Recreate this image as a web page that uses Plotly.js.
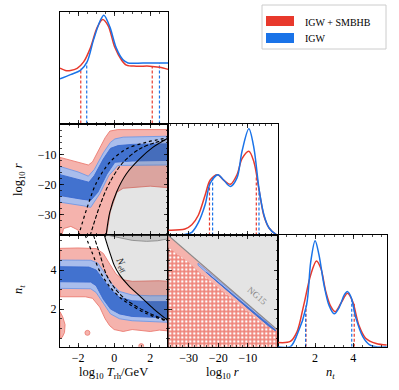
<!DOCTYPE html>
<html>
<head>
<meta charset="utf-8">
<script src="https://cdn.plot.ly/plotly-3.0.1.min.js"></script>
<style>html,body{margin:0;padding:0;background:#fff}</style>
</head>
<body>
<div id="chart" style="width:399px;height:390px"></div>
<script>
// colours
const RED = '#e8392c';
const BLUE = '#1a73e8';
const RED95 = '#f5b3ad', RED95_LINE = '#eb7a70';
const BLUE95 = '#a9bdec', BLUE95_LINE = '#6f98e6';
const BLUE68 = '#4272cf', BLUE68_LINE = '#3a6ad0';
const GRAY = 'rgba(90,90,90,0.16)';

// 1D marginals (normalised to blue peak)
const trhRedX = [-3, -2.7, -2.42, -2.05, -1.69, -1.32, -0.95, -0.64, -0.33, 0.03, 0.4, 0.68, 1.23, 1.96, 2.51, 3];
const trhRed  = [0.52, 0.50, 0.50, 0.52, 0.58, 0.71, 0.90, 0.98, 0.92, 0.72, 0.60, 0.55, 0.54, 0.54, 0.53, 0.51];
const trhBlueX = [-3, -2.42, -1.87, -1.5, -1.14, -0.77, -0.57, -0.24, 0.12, 0.49, 0.77, 1.6, 2.51, 3];
const trhBlue  = [0.42, 0.46, 0.50, 0.58, 0.79, 0.97, 1.02, 0.91, 0.71, 0.60, 0.57, 0.57, 0.57, 0.57];
const trhRedQ = [-1.85, 2.11], trhRedQh = [0.52, 0.54];
const trhBlueQ = [-1.52, 2.51], trhBlueQh = [0.57, 0.57];

const rRedX = [-36.8, -31.2, -28.9, -26.7, -24.4, -22.7, -20.2, -18.2, -15.9, -13.7, -12, -9.7, -8, -6.3, -4.6, -2.9, -0.6, 0.5];
const rRed  = [0.05, 0.06, 0.10, 0.19, 0.38, 0.52, 0.57, 0.52, 0.48, 0.57, 0.72, 0.79, 0.69, 0.43, 0.18, 0.07, 0.01, 0.0];
const rBlueX = [-36.8, -31.2, -28.9, -26.7, -24.4, -22.7, -20.1, -18.2, -15.9, -13.7, -12, -9.7, -8, -6.3, -4.6, -2.9, -0.6, 0.5];
const rBlue  = [0, 0.01, 0.03, 0.12, 0.29, 0.49, 0.57, 0.52, 0.46, 0.54, 0.79, 1.0, 0.82, 0.44, 0.19, 0.07, 0.01, 0];
const rRedQ = [-22.95, -7.2], rRedQh = [0.5, 0.56];
const rBlueQ = [-21.9, -6.3], rBlueQh = [0.54, 0.44];

const ntRedX = [0.05, 0.7, 1.05, 1.4, 1.77, 2.07, 2.3, 2.56, 2.82, 3.05, 3.35, 3.7, 3.96, 4.3, 4.65, 5.2, 5.75];
const ntRed  = [0.04, 0.05, 0.14, 0.39, 0.68, 0.81, 0.74, 0.52, 0.38, 0.33, 0.41, 0.505, 0.43, 0.2, 0.08, 0.03, 0.015];
const ntBlueX = [0.05, 0.7, 1.05, 1.55, 1.77, 2.0, 2.2, 2.47, 2.73, 3.0, 3.26, 3.53, 3.7, 3.88, 4.14, 4.5, 4.84, 5.2, 5.75];
const ntBlue  = [0, 0, 0.11, 0.39, 0.80, 1.0, 0.87, 0.58, 0.39, 0.31, 0.37, 0.49, 0.52, 0.47, 0.27, 0.095, 0.02, 0, 0];
const ntRedQ = [1.52, 4.05], ntRedQh = [0.39, 0.41];
const ntBlueQ = [1.5, 3.92], ntBlueQh = [0.35, 0.47];

// T_rh vs log10 r
const mlRedX = [-3, -2, -1.43, -1.2, -0.9, -0.5, -0.24, 0.2, 3, 3, 2, 1, 0.5, 0.15, -0.22, -0.43, -1.85, -2.0, -2.4, -2.8, -2.92, -3];
const mlRedY = [-11, -12.5, -13.5, -12.5, -9, -4.5, -2.3, -1.8, -1.8, -21, -20.5, -21, -21.2, -22.5, -29, -37, -37, -35, -33.8, -34.5, -37, -37];
const mlB95X = [-3, -2, -1.43, -1.1, -0.6, -0.2, 0.04, 0.5, 3, 3, 1, 0.2, -0.3, -0.8, -1.3, -1.7, -3];
const mlB95Y = [-14, -15.8, -17.2, -15, -9.5, -6, -4.9, -4.3, -4, -13.5, -13.6, -13.7, -17, -23, -27.5, -27, -25.8];
const mlB68X = [-3, -2, -1.4, -1.1, -0.6, -0.2, 0.22, 1, 3, 3, 1, 0.04, -0.4, -0.9, -1.3, -1.8, -3];
const mlB68Y = [-16.7, -18.3, -19.2, -17, -11.5, -8, -7.1, -6.7, -6.5, -12, -12.2, -12.6, -16.5, -22.5, -25.2, -24.8, -23.6];
const mlSolidX = [-0.45, -0.24, 0.13, 0.68, 1.41, 2.14, 3];
const mlSolidY = [-37, -29.1, -22.5, -16.4, -11.5, -7.7, -4.6];
const mlDashX = [-1.34, -0.79, -0.24, 0.5, 1.41, 2.33, 3];
const mlDashY = [-37, -26.9, -19.2, -12.6, -8.2, -6, -5];
const mlDotX = [-1.98, -1.52, -0.97, -0.24, 0.68, 1.78, 3];
const mlDotY = [-37, -28, -19.2, -12.6, -8.2, -6, -4.5];

// T_rh vs n_t
const blRedX = [-3, -2, -1.0, -0.6, -0.24, 0.1, 0.5, 1, 2.5, 3, 3, 2.5, 2, 1.5, 1, 0.5, 0, -0.25, -0.5, -0.8, -1.2, -1.6, -3];
const blRedY = [5.11, 5.13, 5.1, 4.85, 4.3, 3.8, 3.5, 3.42, 3.45, 3.42, 0.88, 0.92, 0.85, 0.9, 0.95, 0.85, 0.95, 1.15, 1.5, 2.1, 2.55, 2.63, 2.63];
const blB95X = [-3, -1.3, -0.9, -0.5, -0.1, 0.3, 1, 2, 3, 3, 2, 1, 0.3, -0.2, -0.6, -1.0, -1.3, -3];
const blB95Y = [4.51, 4.5, 4.35, 3.8, 3.25, 2.9, 2.72, 2.68, 2.68, 1.32, 1.35, 1.4, 1.5, 1.75, 2.3, 2.85, 3.04, 3.06];
const blB68X = [-3, -1.4, -1.0, -0.6, -0.2, 0.3, 1, 2, 3, 3, 2, 1, 0.3, -0.2, -0.6, -1.0, -1.3, -3];
const blB68Y = [4.17, 4.15, 4.0, 3.5, 3.0, 2.6, 2.42, 2.38, 2.38, 1.55, 1.57, 1.62, 1.75, 2.0, 2.5, 3.2, 3.38, 3.4];
const blLensX = [-3, -2.85, -2.72, -2.75, -2.88, -3];
const blLensY = [1.86, 1.6, 1.2, 0.8, 0.55, 0.5];
const blSpotX = [-1.48, 1.5], blSpotY = [0.78, 0.1];
const blSolidX = [-0.55, -0.35, -0.17, 0.0, 0.3, 0.8, 1.5, 2.2, 3];
const blSolidY = [5.8, 5.2, 4.7, 4.25, 3.75, 3.2, 2.6, 2.0, 1.4];
const blDashX = [-1.15, -0.78, -0.42, 0.04, 0.68, 1.78, 3];
const blDashY = [5.8, 4.77, 3.74, 3.06, 2.46, 1.86, 1.38];
const blDotX = [-1.61, -1.24, -0.78, -0.24, 0.5, 1.78, 3];
const blDotY = [5.8, 4.94, 3.91, 3.14, 2.46, 1.77, 1.36];
const blTopX = [-0.45, 0.2, 1.0, 1.8, 2.4, 3, 3, -0.45];
const blTopY = [5.8, 5.66, 5.52, 5.47, 5.5, 5.6, 5.8, 5.8];

// log10 r vs n_t
const bmLineX = [-36.8, 0.4], bmLineY = [5.77, 0.87];
const bmPinkX = [-36.8, 0.4, 0.4, -0.6, -5, -12, -20, -26, -30, -36.8];
const bmPinkY = [5.77, 0.87, 0.8, 0.9, 1.25, 2.1, 3.1, 3.85, 4.4, 5.15];
const bmB95X = [-26.8, -22, -15, -8, -1.5, -0.6, -0.6, -3, -10, -17, -22, -25, -26.8];
const bmB95Y = [4.35, 3.75, 2.85, 1.95, 1.05, 0.93, 0.88, 1.13, 2.03, 2.95, 3.6, 4.0, 4.25];
const bmB68X = [-24, -17, -10, -3, -0.8, -0.8, -3, -10, -17, -24];
const bmB68Y = [3.88, 3.0, 2.1, 1.2, 0.93, 0.89, 1.13, 2.03, 2.95, 3.83];

const FONT = 'Liberation Serif, DejaVu Serif, serif';

function closed(a) { return a.concat([a[0]]); }

function poly(xa, ya, xs, ys, fill, lineColor, extra) {
  let t = {
    type: 'scatter', mode: 'lines', x: closed(xs), y: closed(ys),
    xaxis: xa, yaxis: ya, fill: 'toself', fillcolor: fill,
    line: lineColor ? {color: lineColor, width: 0.9} : {width: 0},
    hoverinfo: 'skip', showlegend: false
  };
  return Object.assign(t, extra || {});
}

function curve(xa, ya, xs, ys, color, width, dash, spline) {
  return {
    type: 'scatter', mode: 'lines', x: xs, y: ys, xaxis: xa, yaxis: ya,
    line: {color: color, width: width, dash: dash || 'solid', shape: spline ? 'spline' : 'linear', smoothing: 0.9},
    hoverinfo: 'skip', showlegend: false
  };
}

// vertical dashed quantile lines, one trace with gaps
function quant(xa, ya, qs, hs, color) {
  let xs = [], ys = [];
  for (let i = 0; i < qs.length; i++) {
    xs.push(qs[i], qs[i], null);
    ys.push(0, hs[i], null);
  }
  return curve(xa, ya, xs, ys, color, 1.2, '3px,2px', false);
}

var traces = [];

// top-left: T_rh marginal
traces.push(quant('x', 'y', trhRedQ, trhRedQh, RED));
traces.push(quant('x', 'y', trhBlueQ, trhBlueQh, BLUE));
traces.push(curve('x', 'y', trhRedX, trhRed, RED, 1.5, 'solid', true));
traces.push(curve('x', 'y', trhBlueX, trhBlue, BLUE, 1.5, 'solid', true));

// middle-left: T_rh vs log r
traces.push(poly('x2', 'y2', mlRedX, mlRedY, RED95, RED95_LINE));
traces.push(poly('x2', 'y2', mlB95X, mlB95Y, BLUE95, BLUE95_LINE));
traces.push(poly('x2', 'y2', mlB68X, mlB68Y, BLUE68, BLUE68_LINE));
traces.push(poly('x2', 'y2', mlSolidX.concat([3, 3]), mlSolidY.concat([-4.6, -37]), GRAY, null));
traces.push(curve('x2', 'y2', mlSolidX, mlSolidY, 'black', 1.1, 'solid', true));
traces.push(curve('x2', 'y2', mlDashX, mlDashY, 'black', 1.1, '4px,2px', true));
traces.push(curve('x2', 'y2', mlDotX, mlDotY, 'black', 1.2, 'dot', true));

// bottom-left: T_rh vs n_t
traces.push(poly('x3', 'y3', blRedX, blRedY, RED95, RED95_LINE));
traces.push(poly('x3', 'y3', blLensX, blLensY, RED95, RED95_LINE));
traces.push({type: 'scatter', mode: 'markers', x: blSpotX, y: blSpotY, xaxis: 'x3', yaxis: 'y3',
  marker: {size: 5, color: RED95, line: {color: RED95_LINE, width: 0.8}}, hoverinfo: 'skip', showlegend: false});
traces.push(poly('x3', 'y3', blB95X, blB95Y, BLUE95, BLUE95_LINE));
traces.push(poly('x3', 'y3', blB68X, blB68Y, BLUE68, BLUE68_LINE));
traces.push(poly('x3', 'y3', blSolidX.concat([3, 3]), blSolidY.concat([5.8, 5.8]), GRAY, null));
traces.push(poly('x3', 'y3', blTopX, blTopY, 'rgba(90,90,90,0.22)', '#8a8a8a'));
traces.push(curve('x3', 'y3', blSolidX, blSolidY, 'black', 1.1, 'solid', true));
traces.push(curve('x3', 'y3', blDashX, blDashY, 'black', 1.1, '4px,2px', true));
traces.push(curve('x3', 'y3', blDotX, blDotY, 'black', 1.2, 'dot', true));

// middle: log r marginal
traces.push(quant('x4', 'y4', rRedQ, rRedQh, RED));
traces.push(quant('x4', 'y4', rBlueQ, rBlueQh, BLUE));
traces.push(curve('x4', 'y4', rRedX, rRed, RED, 1.5, 'solid', true));
traces.push(curve('x4', 'y4', rBlueX, rBlue, BLUE, 1.5, 'solid', true));

// bottom-middle: log r vs n_t
traces.push(poly('x5', 'y5', bmLineX.concat([0.4, -36.8]), bmLineY.concat([0.0, 0.0]), '#ef857b', null,
  {fillpattern: {shape: '.', bgcolor: '#ef857b', fgcolor: '#ffffff', fgopacity: 1, size: 4, solidity: 0.3}}));
traces.push(poly('x5', 'y5', bmPinkX, bmPinkY, RED95, null));
traces.push(poly('x5', 'y5', bmB95X, bmB95Y, BLUE95, BLUE95_LINE));
traces.push(poly('x5', 'y5', bmB68X, bmB68Y, BLUE68, BLUE68_LINE));
traces.push(poly('x5', 'y5', bmLineX.concat([0.4]), bmLineY.concat([5.8]), GRAY, null));
traces.push(curve('x5', 'y5', bmLineX, bmLineY, '#8a8a8a', 1.1, 'solid', false));

// bottom-right: n_t marginal
traces.push(quant('x6', 'y6', ntRedQ, ntRedQh, RED));
traces.push(quant('x6', 'y6', ntBlueQ, ntBlueQh, BLUE));
traces.push(curve('x6', 'y6', ntRedX, ntRed, RED, 1.5, 'solid', true));
traces.push(curve('x6', 'y6', ntBlueX, ntBlue, BLUE, 1.5, 'solid', true));

// axes
const colX = [[0.1504, 0.4218], [0.4218, 0.6975], [0.6975, 0.970]];
const rowY = [[0.6833, 0.9692], [0.3962, 0.6833], [0.111, 0.3962]];

function ax(domain, range, anchor, tickvals, minorStep, labels) {
  return {
    domain: domain, range: range, anchor: anchor,
    showline: true, linecolor: 'black', linewidth: 1, mirror: 'allticks',
    ticks: 'inside', ticklen: 4, tickwidth: 0.8, tickcolor: 'black',
    tickmode: 'array', tickvals: tickvals,
    minor: {ticks: 'inside', ticklen: 2, tickwidth: 0.7, tickcolor: 'black', dtick: minorStep, tick0: 0},
    showticklabels: labels, tickfont: {family: FONT, size: 12, color: 'black'},
    showgrid: false, zeroline: false, fixedrange: true
  };
}
function margAx(domain, anchor) {
  return {
    domain: domain, range: [0, 1.05], anchor: anchor,
    showline: true, linecolor: 'black', linewidth: 1, mirror: true,
    ticks: '', showticklabels: false, showgrid: false, zeroline: false, fixedrange: true
  };
}

const trhRange = [-3, 3], rRange = [-36.8, 0.2], ntRange = [0.07, 5.77];
const trhTicks = [-2, 0, 2], rTicks = [-30, -20, -10], ntTicks = [2, 4];

var layout = {
  width: 399, height: 390,
  margin: {l: 0, r: 0, t: 0, b: 0},
  paper_bgcolor: 'white', plot_bgcolor: 'rgba(0,0,0,0)',
  showlegend: false,
  xaxis:  ax(colX[0], trhRange, 'y', trhTicks, 0.5, false),
  yaxis:  margAx(rowY[0], 'x'),
  xaxis2: ax(colX[0], trhRange, 'y2', trhTicks, 0.5, false),
  yaxis2: ax(rowY[1], rRange, 'x2', rTicks, 2, true),
  xaxis3: ax(colX[0], trhRange, 'y3', trhTicks, 0.5, true),
  yaxis3: ax(rowY[2], ntRange, 'x3', ntTicks, 0.5, true),
  xaxis4: ax(colX[1], rRange, 'y4', rTicks, 2, false),
  yaxis4: margAx(rowY[1], 'x4'),
  xaxis5: ax(colX[1], rRange, 'y5', rTicks, 2, true),
  yaxis5: ax(rowY[2], ntRange, 'x5', ntTicks, 0.5, false),
  xaxis6: ax(colX[2], ntRange, 'y6', ntTicks, 0.5, true),
  yaxis6: margAx(rowY[2], 'x6'),
  annotations: [
    {text: 'log<sub>10</sub> <i>T</i><sub>rh</sub>/GeV', x: 113 / 399, y: 1 - 373 / 390},
    {text: 'log<sub>10</sub> <i>r</i>', x: 222 / 399, y: 1 - 373 / 390},
    {text: '<i>n<sub>t</sub></i>', x: 330 / 399, y: 1 - 373 / 390},
    {text: 'log<sub>10</sub> <i>r</i>', x: 19 / 399, y: 1 - 180 / 390, textangle: -90},
    {text: '<i>n<sub>t</sub></i>', x: 19 / 399, y: 1 - 290 / 390, textangle: -90},
    {text: 'IGW + SMBHB', x: 303 / 399, y: 1 - 22 / 390, xanchor: 'left', font: {family: FONT, size: 10, color: 'black'}},
    {text: 'IGW', x: 303 / 399, y: 1 - 39 / 390, xanchor: 'left', font: {family: FONT, size: 10, color: 'black'}},
    {text: '<i>N</i><sub>eff</sub>', xref: 'x3', yref: 'y3', x: 0.45, y: 4.25, textangle: 62,
     font: {family: FONT, size: 10, color: '#222'}},
    {text: 'NG15', xref: 'x5', yref: 'y5', x: -6.8, y: 2.67, textangle: 41,
     font: {family: FONT, size: 9, color: '#8a8a8a'}}
  ].map(a => Object.assign({xref: 'paper', yref: 'paper', showarrow: false, xanchor: 'center', yanchor: 'middle',
    font: {family: FONT, size: 12.5, color: 'black'}}, a)),
  shapes: [
    {type: 'rect', xref: 'paper', yref: 'paper', x0: 262 / 399, x1: 386 / 399, y0: 1 - 49 / 390, y1: 1 - 5 / 390,
     line: {color: '#cccccc', width: 1}, fillcolor: 'white'},
    {type: 'rect', xref: 'paper', yref: 'paper', x0: 266 / 399, x1: 294 / 399, y0: 1 - 26 / 390, y1: 1 - 16 / 390,
     line: {width: 0}, fillcolor: RED},
    {type: 'rect', xref: 'paper', yref: 'paper', x0: 266 / 399, x1: 294 / 399, y0: 1 - 43 / 390, y1: 1 - 33 / 390,
     line: {width: 0}, fillcolor: BLUE}
  ]
};

Plotly.newPlot('chart', traces, layout, {staticPlot: true, displayModeBar: false});
</script>
</body>
</html>
